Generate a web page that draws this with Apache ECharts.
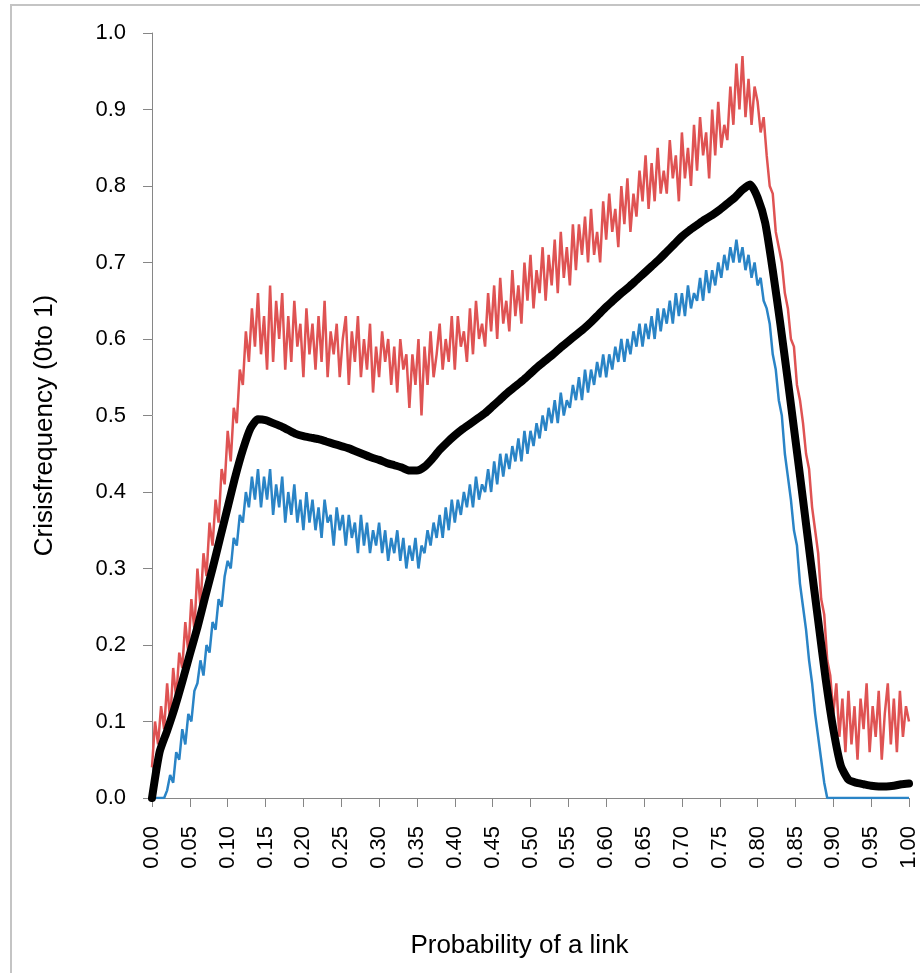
<!DOCTYPE html>
<html>
<head>
<meta charset="utf-8">
<script src="https://cdn.jsdelivr.net/npm/echarts@6/dist/echarts.min.js"></script>
<style>
  html, body { margin: 0; padding: 0; background: #fff; }
  #chart { width: 920px; height: 973px; }
</style>
</head>
<body>
<div id="chart"></div>
<script>
// 采样步长（x 轴：链接概率）
const noisyStep = 0.004
const meanStep = 0.01

// 上界（红色，噪声较大）
const upperValues = [
  0.04, 0.10, 0.07, 0.12, 0.09, 0.15, 0.10, 0.17, 0.13, 0.19,
  0.17, 0.23, 0.19, 0.26, 0.22, 0.30, 0.25, 0.32, 0.29, 0.36,
  0.33, 0.39, 0.36, 0.43, 0.41, 0.48, 0.44, 0.51, 0.49, 0.56,
  0.54, 0.61, 0.57, 0.64, 0.59, 0.66, 0.58, 0.63, 0.56, 0.67,
  0.57, 0.65, 0.60, 0.66, 0.56, 0.63, 0.57, 0.65, 0.59, 0.62,
  0.55, 0.64, 0.58, 0.62, 0.56, 0.63, 0.57, 0.65, 0.55, 0.61,
  0.58, 0.62, 0.55, 0.60, 0.63, 0.54, 0.61, 0.57, 0.63, 0.55,
  0.60, 0.56, 0.62, 0.53, 0.59, 0.55, 0.61, 0.57, 0.60, 0.54,
  0.59, 0.53, 0.60, 0.56, 0.58, 0.51, 0.58, 0.54, 0.60, 0.50,
  0.59, 0.54, 0.61, 0.55, 0.58, 0.62, 0.56, 0.60, 0.57, 0.63,
  0.56, 0.63, 0.59, 0.61, 0.57, 0.64, 0.58, 0.65, 0.60, 0.62,
  0.59, 0.66, 0.61, 0.67, 0.60, 0.68, 0.62, 0.65, 0.61, 0.69,
  0.63, 0.67, 0.62, 0.70, 0.65, 0.71, 0.64, 0.69, 0.66, 0.72,
  0.65, 0.71, 0.67, 0.73, 0.66, 0.74, 0.68, 0.72, 0.67, 0.75,
  0.69, 0.75, 0.71, 0.76, 0.70, 0.77, 0.71, 0.74, 0.70, 0.78,
  0.73, 0.79, 0.74, 0.77, 0.72, 0.80, 0.75, 0.81, 0.74, 0.79,
  0.76, 0.82, 0.78, 0.84, 0.77, 0.83, 0.78, 0.85, 0.79, 0.82,
  0.79, 0.86, 0.81, 0.84, 0.78, 0.87, 0.81, 0.85, 0.80, 0.88,
  0.82, 0.89, 0.84, 0.87, 0.81, 0.90, 0.84, 0.91, 0.85, 0.88,
  0.86, 0.93, 0.88, 0.96, 0.90, 0.97, 0.89, 0.94, 0.88, 0.93,
  0.91, 0.87, 0.89, 0.84, 0.80, 0.79, 0.74, 0.72, 0.70, 0.66,
  0.64, 0.60, 0.59, 0.54, 0.52, 0.49, 0.45, 0.43, 0.38, 0.35,
  0.32, 0.26, 0.24, 0.18, 0.16, 0.11, 0.15, 0.08, 0.13, 0.06,
  0.14, 0.07, 0.12, 0.05, 0.13, 0.09, 0.15, 0.06, 0.12, 0.08,
  0.14, 0.05, 0.11, 0.15, 0.07, 0.13, 0.06, 0.14, 0.08, 0.12,
  0.10
]

// 下界（蓝色）
const lowerValues = [
  0.00, 0.00, 0.00, 0.00, 0.00, 0.01, 0.03, 0.02, 0.06, 0.05,
  0.09, 0.07, 0.11, 0.10, 0.14, 0.15, 0.18, 0.16, 0.20, 0.19,
  0.23, 0.22, 0.26, 0.25, 0.29, 0.31, 0.30, 0.34, 0.33, 0.37,
  0.36, 0.40, 0.38, 0.42, 0.39, 0.43, 0.38, 0.42, 0.39, 0.43,
  0.37, 0.41, 0.38, 0.42, 0.36, 0.40, 0.37, 0.41, 0.36, 0.39,
  0.35, 0.40, 0.36, 0.39, 0.35, 0.38, 0.34, 0.39, 0.36, 0.37,
  0.33, 0.38, 0.35, 0.37, 0.33, 0.37, 0.34, 0.36, 0.32, 0.37,
  0.33, 0.36, 0.32, 0.35, 0.33, 0.36, 0.32, 0.35, 0.31, 0.34,
  0.32, 0.35, 0.31, 0.34, 0.30, 0.33, 0.31, 0.34, 0.30, 0.33,
  0.32, 0.35, 0.33, 0.36, 0.34, 0.37, 0.34, 0.38, 0.35, 0.39,
  0.36, 0.39, 0.37, 0.40, 0.38, 0.41, 0.38, 0.42, 0.39, 0.41,
  0.40, 0.43, 0.40, 0.44, 0.41, 0.45, 0.42, 0.45, 0.43, 0.46,
  0.44, 0.47, 0.44, 0.48, 0.45, 0.48, 0.46, 0.49, 0.47, 0.50,
  0.48, 0.51, 0.49, 0.52, 0.49, 0.53, 0.50, 0.52, 0.51, 0.54,
  0.52, 0.55, 0.52, 0.56, 0.53, 0.56, 0.54, 0.57, 0.55, 0.58,
  0.55, 0.58, 0.56, 0.59, 0.57, 0.60, 0.57, 0.60, 0.58, 0.61,
  0.59, 0.62, 0.59, 0.62, 0.60, 0.63, 0.60, 0.64, 0.61, 0.64,
  0.62, 0.65, 0.62, 0.66, 0.63, 0.66, 0.63, 0.67, 0.64, 0.66,
  0.65, 0.68, 0.65, 0.69, 0.66, 0.69, 0.67, 0.70, 0.68, 0.71,
  0.69, 0.72, 0.70, 0.73, 0.70, 0.72, 0.69, 0.71, 0.68, 0.70,
  0.67, 0.68, 0.65, 0.64, 0.62, 0.58, 0.56, 0.52, 0.50, 0.45,
  0.42, 0.39, 0.35, 0.33, 0.28, 0.25, 0.22, 0.18, 0.15, 0.11,
  0.08, 0.05, 0.02, 0.00, 0.00, 0.00, 0.00, 0.00, 0.00, 0.00,
  0.00, 0.00, 0.00, 0.00, 0.00, 0.00, 0.00, 0.00, 0.00, 0.00,
  0.00, 0.00, 0.00, 0.00, 0.00, 0.00, 0.00, 0.00, 0.00, 0.00,
  0.00
]

// 平均值（黑色粗线）
const meanValues = [
  0.000, 0.060, 0.088, 0.118, 0.152, 0.188, 0.223, 0.262, 0.300, 0.340,
  0.380, 0.420, 0.455, 0.483, 0.495, 0.494, 0.490, 0.486, 0.481, 0.476,
  0.473, 0.471, 0.469, 0.466, 0.463, 0.460, 0.457, 0.453, 0.449, 0.445,
  0.442, 0.438, 0.435, 0.432, 0.428, 0.428, 0.433, 0.443, 0.455, 0.465,
  0.474, 0.482, 0.489, 0.496, 0.503, 0.512, 0.521, 0.530, 0.538, 0.546,
  0.555, 0.564, 0.572, 0.580, 0.589, 0.597, 0.605, 0.613, 0.622, 0.632,
  0.642, 0.651, 0.660, 0.668, 0.677, 0.686, 0.695, 0.704, 0.714, 0.724,
  0.734, 0.742, 0.749, 0.756, 0.762, 0.769, 0.777, 0.785, 0.795, 0.802,
  0.785, 0.752, 0.690, 0.620, 0.545, 0.468, 0.390, 0.310, 0.232, 0.155,
  0.090, 0.042, 0.024, 0.020, 0.018, 0.016, 0.015, 0.015, 0.016, 0.018,
  0.019
]

const toPairs = (values, step) =>
  values.map((v, i) => [Math.round(i * step * 1000) / 1000, v])

const chart = echarts.init(document.getElementById('chart'))

const axisGray = '#868686'
const textFont = 'Liberation Sans'

const option = {
  animation: false,
  backgroundColor: '#fff',
  graphic: [
    {
      type: 'rect',
      shape: { x: 11, y: 5, width: 1000, height: 1000 },
      style: { fill: 'none', stroke: '#c4c4c4', lineWidth: 2 },
      silent: true,
      z: -1
    }
  ],
  grid: {
    left: 152,
    right: 9,
    top: 33,
    bottom: 175,
    containLabel: false
  },
  xAxis: {
    type: 'value',
    min: 0,
    max: 1,
    interval: 0.05,
    name: 'Probability of a link',
    nameLocation: 'middle',
    nameGap: 135,
    nameTextStyle: { fontFamily: textFont, fontSize: 26, color: '#000', padding: [0, 22, 0, 0] },
    axisLine: { lineStyle: { color: axisGray, width: 1 } },
    axisTick: { show: true, length: 9, lineStyle: { color: axisGray } },
    axisLabel: {
      rotate: 90,
      margin: 28,
      fontFamily: textFont,
      fontSize: 22,
      color: '#000',
      formatter: v => v.toFixed(2)
    },
    splitLine: { show: false }
  },
  yAxis: {
    type: 'value',
    min: 0,
    max: 1,
    interval: 0.1,
    name: 'Crisisfrequency (0to 1)',
    nameLocation: 'middle',
    nameGap: 94,
    nameTextStyle: { fontFamily: textFont, fontSize: 26, color: '#000', padding: [0, 20, 0, 0] },
    axisLine: { show: true, lineStyle: { color: axisGray, width: 1 } },
    axisTick: { show: true, length: 9, lineStyle: { color: axisGray } },
    axisLabel: {
      margin: 26,
      fontFamily: textFont,
      fontSize: 22,
      color: '#000',
      formatter: v => v.toFixed(1)
    },
    splitLine: { show: false }
  },
  series: [
    {
      name: 'upper',
      type: 'line',
      data: toPairs(upperValues, noisyStep),
      showSymbol: false,
      lineStyle: { color: '#DF5353', width: 2.5 },
      z: 3
    },
    {
      name: 'lower',
      type: 'line',
      data: toPairs(lowerValues, noisyStep),
      showSymbol: false,
      lineStyle: { color: '#2A84C6', width: 2.5 },
      z: 4
    },
    {
      name: 'mean',
      type: 'line',
      data: toPairs(meanValues, meanStep),
      showSymbol: false,
      smooth: 0.2,
      lineStyle: { color: '#000', width: 8, cap: 'round', join: 'round' },
      z: 5
    }
  ]
}

chart.setOption(option)
</script>
</body>
</html>
